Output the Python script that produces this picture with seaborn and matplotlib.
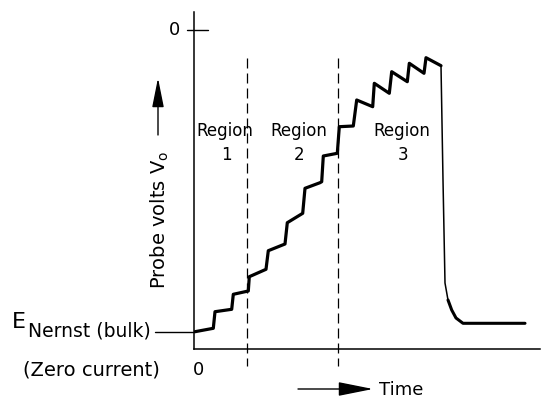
import matplotlib
matplotlib.use("Agg")
import pandas as pd
import seaborn as sns
from matplotlib import pyplot as plt

# probe volts vs time, arbitrary units
rise_t = [0.01, 0.193, 0.21, 0.377, 0.393, 0.543, 0.553, 0.72, 0.743, 0.91,
          0.933, 1.087, 1.11, 1.26, 1.277, 1.293, 1.433, 1.453, 1.593, 1.627,
          1.787, 1.803, 1.953, 1.977, 2.133, 2.153, 2.30, 2.32, 2.47]
rise_v = [-3.017, -2.983, -2.817, -2.793, -2.643, -2.61, -2.467, -2.393, -2.207, -2.14,
          -1.927, -1.833, -1.583, -1.527, -1.517, -1.26, -1.233, -0.967, -0.96, -0.70,
          -0.767, -0.533, -0.633, -0.417, -0.517, -0.333, -0.433, -0.277, -0.357]
drop_t = [2.47, 2.49, 2.51, 2.54]
drop_v = [-0.357, -1.50, -2.53, -2.70]
tail_t = [2.54, 2.577, 2.62, 2.69, 3.31]
tail_v = [-2.70, -2.80, -2.88, -2.933, -2.933]

nernst_v = -3.02
region_bounds = [0.533, 1.443]
region_x = [0.31, 1.045, 2.08]
region_num = ["1", "2", "3"]

sns.set_theme(style="white")
plt.rcParams["font.family"] = ["DejaVu Sans"]
plt.rcParams["text.color"] = "black"

fig = plt.figure(figsize=(5.42, 4.0), dpi=100)
ax = fig.add_axes([194 / 542, 51 / 400, 346 / 542, 337 / 400])

rise = pd.DataFrame({"t": rise_t, "v": rise_v})
drop = pd.DataFrame({"t": drop_t, "v": drop_v})
tail = pd.DataFrame({"t": tail_t, "v": tail_v})
line_kw = dict(sort=False, estimator=None, color="black",
               solid_capstyle="round", solid_joinstyle="round", ax=ax)
sns.lineplot(data=rise, x="t", y="v", lw=2.3, **line_kw)
sns.lineplot(data=drop, x="t", y="v", lw=1.1, **line_kw)
sns.lineplot(data=tail, x="t", y="v", lw=2.2, **line_kw)

ax.set_xlim(0, 3.46)
ax.set_ylim(-3.19, 0.18)
ax.set_xticks([])
ax.set_yticks([])
ax.set_xlabel("")
ax.set_ylabel("")
for side in ["top", "right"]:
    ax.spines[side].set_visible(False)
for side in ["left", "bottom"]:
    ax.spines[side].set_color("black")
    ax.spines[side].set_linewidth(1.1)

# region boundaries
for b in region_bounds:
    ax.plot([b, b], [-0.28, -3.36], color="black", lw=0.9, dashes=(8, 4), clip_on=False)
for x, n in zip(region_x, region_num):
    ax.text(x, -1.01, "Region", ha="center", va="center", fontsize=12)
    ax.text(x + 0.01, -1.25, n, ha="center", va="center", fontsize=12)

# zero tick on the volts axis
ax.plot([-0.073, 0.14], [0, 0], color="black", lw=1.0, clip_on=False)
ax.text(-0.19, 0, "0", ha="center", va="center", fontsize=13)
ax.text(0.05, -3.40, "0", ha="center", va="center", fontsize=13)

# E Nernst level
ax.plot([-0.39, 0], [nernst_v, nernst_v], color="black", lw=1.0, clip_on=False)
ax.text(-1.68, nernst_v + 0.04, "E", ha="right", va="baseline", fontsize=16)
ax.text(-1.66, nernst_v - 0.05, "Nernst (bulk)", ha="left", va="baseline", fontsize=13.5)
ax.text(-1.71, -3.46, "(Zero current)", ha="left", va="baseline", fontsize=14)

# axis names with arrows
ax.text(-0.34, -1.90, r"Probe volts V$_\mathregular{o}$", rotation=90,
        ha="center", va="center", fontsize=14)
ax.annotate("", xy=(-0.36, -0.48), xytext=(-0.36, -1.05), annotation_clip=False,
            arrowprops=dict(arrowstyle="-|>,head_length=1.5,head_width=0.3",
                            color="black", lw=1.0, shrinkA=0, shrinkB=0))
ax.annotate("", xy=(1.79, -3.59), xytext=(1.04, -3.59), annotation_clip=False,
            arrowprops=dict(arrowstyle="-|>,head_length=1.8,head_width=0.36",
                            color="black", lw=1.0, shrinkA=0, shrinkB=0))
ax.text(1.85, -3.60, "Time", ha="left", va="center", fontsize=13)

fig.savefig("out.png", dpi=100)
